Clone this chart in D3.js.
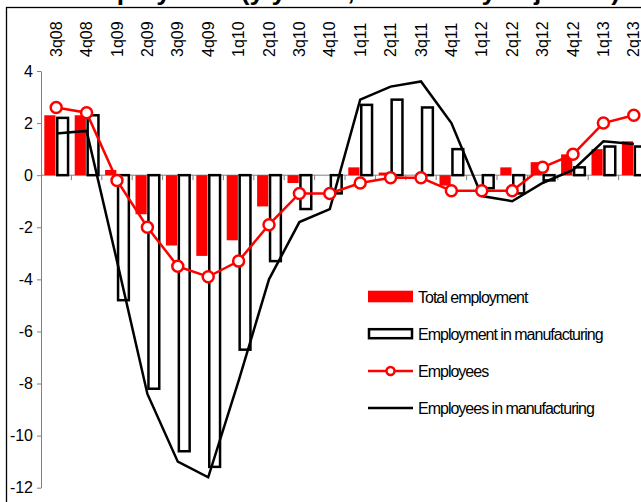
<!DOCTYPE html>
<html>
<head>
<meta charset="utf-8">
<script src="https://cdn.jsdelivr.net/npm/d3@7"></script>
<style>
  body { margin: 0; background: #fff; }
  text { font-family: "Liberation Sans", Arial, sans-serif; }
</style>
</head>
<body>
<div id="chart"></div>
<script>
// quarters on the x axis
var categories = ["3q08", "4q08", "1q09", "2q09", "3q09", "4q09", "1q10", "2q10", "3q10", "4q10",
    "1q11", "2q11", "3q11", "4q11", "1q12", "2q12", "3q12", "4q12", "1q13", "2q13"];

// series values, y/y in %
var totalEmployment = [2.3, 2.3, 0.2, -1.5, -2.7, -3.1, -2.5, -1.2, -0.3, 0.0,
    0.3, 0.1, 0.0, -0.4, 0.0, 0.3, 0.5, 0.8, 1.0, 1.3];
var manufEmployment = [2.2, 2.3, -4.8, -8.2, -10.6, -11.2, -6.7, -3.3, -1.3, -0.7,
    2.7, 2.9, 2.6, 1.0, -0.5, -0.7, -0.2, 0.3, 1.1, 1.1];
var employees = [2.6, 2.4, -0.2, -2.0, -3.5, -3.9, -3.3, -1.9, -0.7, -0.7,
    -0.3, -0.1, -0.1, -0.6, -0.6, -0.6, 0.3, 0.8, 2.0, 2.3];
var employeesManuf = [1.6, 1.7, -3.3, -8.4, -11.0, -11.6, -7.9, -4.0, -1.8, -1.3,
    2.9, 3.4, 3.6, 2.0, -0.8, -1.0, -0.3, 0.2, 1.3, 1.2];

// y ticks and legend names
var yTicks = [-12, -10, -8, -6, -4, -2, 0, 2, 4];
var legendNames = ["Total employment", "Employment in manufacturing", "Employees", "Employees in manufacturing"];
var titleText = "Employment (y/y in %, seasonally adjusted)";

var svgWidth = 641;
var svgHeight = 502;

var svg = d3.select("#chart").append("svg")
    .attr("width", svgWidth)
    .attr("height", svgHeight);

// scales (plot runs past the right edge, like the cropped original)
var x = d3.scaleBand().domain(categories).range([41, 649]);
var y = d3.scaleLinear().domain([-12, 4]).range([487.7, 71]);
var bw = x.bandwidth();

// cropped title above the frame
svg.append("text")
    .attr("x", 76)
    .attr("y", 0)
    .attr("textLength", 544)
    .attr("lengthAdjust", "spacingAndGlyphs")
    .attr("font-size", "24px")
    .attr("font-weight", "bold")
    .text(titleText);

// chart frame
svg.append("rect")
    .attr("x", 6.5)
    .attr("y", 7.5)
    .attr("width", 800)
    .attr("height", 600)
    .attr("fill", "none")
    .attr("stroke", "#000")
    .attr("stroke-width", 1.3);

// y axis
var yAxis = svg.append("g")
    .attr("transform", "translate(41,0)")
    .call(d3.axisLeft(y).tickValues(yTicks).tickSize(4).tickSizeOuter(0).tickPadding(4)
        .tickFormat(function(d) { return String(d); }));
yAxis.select(".domain").attr("stroke", "#808080");
yAxis.selectAll(".tick line").attr("stroke", "#808080");
yAxis.selectAll(".tick text")
    .attr("font-size", "16px")
    .attr("fill", "#000")
    .style("font-family", "'Liberation Sans', Arial, sans-serif");

// zero line with category ticks hanging below
svg.append("line")
    .attr("x1", 41).attr("x2", 649)
    .attr("y1", y(0)).attr("y2", y(0))
    .attr("stroke", "#808080");
svg.selectAll(".cattick")
    .data(categories.slice(1))
    .enter()
    .append("line")
    .attr("x1", d => x(d)).attr("x2", d => x(d))
    .attr("y1", y(0)).attr("y2", y(0) + 5)
    .attr("stroke", "#808080");

// category labels at the top, rotated
svg.selectAll(".catlabel")
    .data(categories)
    .enter()
    .append("text")
    .attr("transform", d => `translate(${x(d) + bw / 2}, 57) rotate(-90)`)
    .attr("dy", "0.35em")
    .attr("font-size", "16px")
    .text(d => d);

// red bars: total employment
svg.selectAll(".totalBar")
    .data(totalEmployment)
    .enter()
    .append("rect")
    .attr("x", (d, i) => x(categories[i]) + 3.3)
    .attr("width", 11.2)
    .attr("y", d => y(Math.max(0, d)))
    .attr("height", d => Math.abs(y(d) - y(0)))
    .attr("fill", "#ff0000");

// white outlined bars: employment in manufacturing
svg.selectAll(".manufBar")
    .data(manufEmployment)
    .enter()
    .append("rect")
    .attr("x", (d, i) => x(categories[i]) + 16.25)
    .attr("width", 10.8)
    .attr("y", d => y(Math.max(0, d)))
    .attr("height", d => Math.abs(y(d) - y(0)))
    .attr("fill", "#fff")
    .attr("stroke", "#000")
    .attr("stroke-width", 2.5);

var line = d3.line()
    .x((d, i) => x(categories[i]) + bw / 2)
    .y(d => y(d));

// black line: employees in manufacturing
svg.append("path")
    .datum(employeesManuf)
    .attr("d", line)
    .attr("fill", "none")
    .attr("stroke", "#000")
    .attr("stroke-width", 2.5);

// red line with circles: employees
svg.append("path")
    .datum(employees)
    .attr("d", line)
    .attr("fill", "none")
    .attr("stroke", "#ff0000")
    .attr("stroke-width", 2.5);
svg.selectAll(".empDot")
    .data(employees)
    .enter()
    .append("circle")
    .attr("cx", (d, i) => x(categories[i]) + bw / 2)
    .attr("cy", d => y(d))
    .attr("r", 5.5)
    .attr("fill", "#fff")
    .attr("stroke", "#ff0000")
    .attr("stroke-width", 2.5);

// legend
var legend = svg.append("g").attr("transform", "translate(368,0)");
var rowY = [296.5, 333.7, 371, 408];

legend.append("rect")
    .attr("x", 0).attr("y", rowY[0] - 5.8)
    .attr("width", 45).attr("height", 11.6)
    .attr("fill", "#ff0000");
legend.append("rect")
    .attr("x", 1).attr("y", rowY[1] - 4.5)
    .attr("width", 43).attr("height", 9)
    .attr("fill", "#fff")
    .attr("stroke", "#000")
    .attr("stroke-width", 2.5);
legend.append("line")
    .attr("x1", 0).attr("x2", 45)
    .attr("y1", rowY[2]).attr("y2", rowY[2])
    .attr("stroke", "#ff0000").attr("stroke-width", 2.5);
legend.append("circle")
    .attr("cx", 22.5).attr("cy", rowY[2]).attr("r", 4)
    .attr("fill", "#fff").attr("stroke", "#ff0000").attr("stroke-width", 2.5);
legend.append("line")
    .attr("x1", 0).attr("x2", 45)
    .attr("y1", rowY[3]).attr("y2", rowY[3])
    .attr("stroke", "#000").attr("stroke-width", 2.5);

legend.selectAll(".legText")
    .data(legendNames)
    .enter()
    .append("text")
    .attr("x", 50)
    .attr("y", (d, i) => rowY[i] + 6)
    .attr("font-size", "16px")
    .attr("letter-spacing", "-1px")
    .text(d => d);
</script>
</body>
</html>
